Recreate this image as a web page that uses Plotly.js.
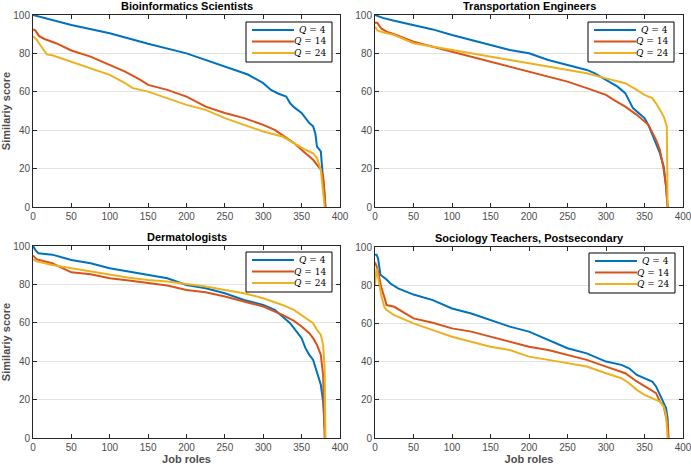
<!DOCTYPE html>
<html>
<head>
<meta charset="utf-8">
<script src="https://cdn.plot.ly/plotly-3.0.1.min.js"></script>
<style>
  html, body { margin: 0; padding: 0; background: #fff; }
  #chart { width: 691px; height: 470px; }
</style>
</head>
<body>
<div id="chart"></div>
<script>
const panelTitles = ["Bioinformatics Scientists", "Transportation Engineers", "Dermatologists", "Sociology Teachers, Postsecondary"];
const seriesNames = ["<i>Q</i> = 4", "<i>Q</i> = 14", "<i>Q</i> = 24"];
const seriesColors = ["#0072BD", "#D95319", "#EDB120"];

// Bioinformatics Scientists
const bioX_q4 = [0, 5, 20, 50, 100, 150, 200, 250, 280, 300, 310, 320, 330, 335, 340, 350, 360, 365, 368, 370, 375, 378, 381];
const bioY_q4 = [100, 99.5, 98, 94.8, 90.5, 85, 80, 73, 69, 64.5, 61, 59, 57.5, 54, 52, 49, 43.7, 42, 38, 31.5, 29, 14, 0];
const bioX_q14 = [0, 3, 8, 15, 30, 50, 75, 100, 120, 140, 150, 175, 200, 225, 250, 275, 300, 315, 325, 340, 355, 365, 375, 378, 380, 381];
const bioY_q14 = [92.5, 92, 89, 87.5, 85.3, 81.5, 78.3, 74, 70.5, 66.2, 63.6, 61, 57.5, 52.3, 49, 46.3, 42.8, 40.2, 37.6, 33.3, 28, 24.6, 19.4, 16, 7, 0];
const bioX_q24 = [0, 5, 10, 18, 25, 50, 75, 100, 120, 130, 150, 175, 200, 225, 250, 275, 300, 325, 340, 355, 365, 370, 375, 378, 380];
const bioY_q24 = [89, 87, 84, 79.5, 79, 75.7, 72.3, 68.8, 64.5, 61.9, 60.1, 56.7, 53.2, 50.6, 46.3, 42.8, 39.3, 36.7, 33.3, 29.8, 28, 25.5, 19.4, 7, 0];

// Transportation Engineers
const traX_q4 = [0, 10, 25, 50, 75, 100, 125, 150, 175, 200, 225, 250, 275, 285, 300, 315, 325, 335, 345, 350, 355, 365, 370, 375, 378, 380];
const traY_q4 = [100, 98.5, 97, 94.8, 92.5, 89.6, 87, 84.4, 81.8, 80.1, 76.6, 74, 71.4, 69.7, 66.2, 62.7, 59.3, 51.5, 48, 46.3, 42.8, 33.3, 28, 21, 10.7, 0];
const traX_q14 = [0, 3, 8, 15, 25, 50, 75, 100, 125, 150, 175, 200, 225, 250, 275, 300, 310, 325, 340, 355, 365, 370, 375, 378, 380];
const traY_q14 = [96, 96, 93, 91.3, 90, 86.1, 83.5, 80.9, 78.3, 75.7, 73.5, 70.5, 67.9, 65.3, 61.9, 58.4, 55.8, 52.3, 48, 42.8, 35, 29.8, 19.4, 10.7, 0];
const traX_q24 = [0, 3, 10, 25, 50, 75, 100, 125, 150, 175, 200, 225, 250, 275, 300, 325, 340, 350, 360, 365, 370, 375, 379, 380];
const traY_q24 = [94, 92, 91, 89.6, 85.3, 83.5, 81.8, 80.1, 78.3, 76.6, 74.9, 73.1, 71.4, 69.7, 67, 64.5, 61, 58.4, 56.7, 54, 50.6, 47.1, 42, 0];

// Dermatologists
const derX_q4 = [0, 3, 7, 25, 50, 75, 100, 125, 150, 175, 200, 225, 250, 275, 300, 315, 325, 335, 345, 350, 355, 360, 365, 370, 375, 378, 380];
const derY_q4 = [100, 98, 96.2, 95.5, 92.7, 91, 88.4, 86.7, 84.9, 83.2, 79.7, 78, 75.4, 71.9, 69.3, 66.7, 63.3, 59.8, 54.6, 52, 46.8, 43.3, 40.7, 34.7, 27.7, 19, 5.2];
const derX_q14 = [0, 5, 25, 50, 75, 100, 125, 150, 175, 200, 225, 250, 275, 300, 325, 340, 350, 360, 365, 370, 375, 378, 380];
const derY_q14 = [95, 93, 91, 86.3, 85.3, 83.2, 82, 80.6, 79.4, 77.1, 75.9, 73.7, 71.1, 68.5, 64.1, 61, 58.1, 54.6, 52, 48.5, 43.3, 32.9, 0];
const derX_q24 = [0, 5, 25, 50, 75, 100, 125, 150, 175, 200, 225, 250, 275, 300, 325, 340, 350, 360, 365, 370, 375, 378, 380, 381];
const derY_q24 = [93, 92, 90.1, 88.4, 86.7, 84.9, 83.5, 82.3, 81.5, 80.2, 78.9, 77.1, 75.4, 72.8, 69.3, 66.7, 64.1, 61.5, 59.8, 56.3, 53.7, 48.5, 36.4, 0];

// Sociology Teachers, Postsecondary
const socX_q4 = [0, 2, 4, 5, 7, 15, 20, 30, 40, 50, 75, 100, 125, 150, 175, 200, 225, 240, 250, 275, 300, 320, 330, 340, 350, 360, 365, 370, 375, 378, 380, 381];
const socY_q4 = [96, 96, 94, 91.3, 85.5, 83, 80.9, 78.3, 76.5, 75.1, 72.2, 67.8, 65.2, 61.7, 58.3, 55.7, 51.3, 48.7, 47, 44.3, 40, 38.3, 36.5, 33, 31.3, 29.6, 27, 22.6, 18.3, 15.7, 10.4, 0];
const socX_q14 = [0, 2, 5, 8, 12, 15, 25, 50, 75, 100, 125, 150, 175, 200, 225, 250, 275, 300, 325, 340, 350, 365, 370, 375, 380, 381];
const socY_q14 = [92, 90, 85.2, 79, 73.9, 69.6, 68.7, 62.6, 60.3, 57.4, 55.7, 53, 50.1, 47.8, 46.1, 43.5, 40.9, 37.4, 33.9, 29.6, 27, 23.5, 19.1, 16.5, 7, 0];
const socX_q24 = [0, 2, 5, 8, 12, 15, 25, 50, 75, 100, 125, 150, 175, 200, 225, 250, 275, 300, 320, 330, 340, 350, 360, 370, 375, 378, 380];
const socY_q24 = [80, 89, 81.7, 74.8, 68.7, 67, 64.3, 60, 56.5, 53, 50.4, 47.8, 46.1, 42.6, 40.9, 39.1, 37.4, 33.9, 31.3, 28.7, 25.2, 22.6, 20.9, 19.1, 16.5, 12.2, 0];

const panels = [
  { xs: [bioX_q4, bioX_q14, bioX_q24], ys: [bioY_q4, bioY_q14, bioY_q24] },
  { xs: [traX_q4, traX_q14, traX_q24], ys: [traY_q4, traY_q14, traY_q24] },
  { xs: [derX_q4, derX_q14, derX_q24], ys: [derY_q4, derY_q14, derY_q24] },
  { xs: [socX_q4, socX_q14, socX_q24], ys: [socY_q4, socY_q14, socY_q24] }
];

const W = 691, H = 470;
// plot boxes in pixels: [left, right, top, bottom]
const boxes = [
  [33, 340, 15, 207],
  [375, 683, 15, 207],
  [33, 340, 246, 438],
  [375, 683, 247, 438]
];
// legend box corner (right, top) in pixels
const legendRight = [332, 674, 332, 675];
const legendTop = [22, 22, 252, 253];

const sans = "Liberation Sans, Arial, Helvetica, sans-serif";
const axisCol = "#262626";
const tickCol = "#4d4d4d";

function px(v) { return v / W; }
function py(v) { return 1 - v / H; }

var data = [];
var layout = {
  width: W, height: H,
  margin: { l: 0, r: 0, t: 0, b: 0 },
  paper_bgcolor: "#fff",
  plot_bgcolor: "#fff",
  font: { family: sans, size: 10, color: tickCol },
  annotations: [],
  shapes: [],
  showlegend: false
};

panels.forEach(function (p, i) {
  var n = i + 1;
  var suf = n === 1 ? "" : String(n);
  var b = boxes[i];

  for (var s = 0; s < 3; s++) {
    data.push({
      x: p.xs[s], y: p.ys[s],
      type: "scatter", mode: "lines",
      name: seriesNames[s],
      line: { color: seriesColors[s], width: 2 },
      xaxis: "x" + suf, yaxis: "y" + suf
    });
  }

  var common = {
    showline: true, mirror: "ticks", linecolor: axisCol, linewidth: 1,
    ticks: "inside", ticklen: 4, tickcolor: axisCol,
    tickfont: { family: sans, size: 10, color: tickCol },
    ticklabeloverflow: "allow",
    zeroline: false
  };
  layout["xaxis" + suf] = Object.assign({}, common, {
    domain: [px(b[0]), px(b[1])],
    range: [0, 400], dtick: 50, showgrid: false,
    anchor: "y" + suf
  });
  layout["yaxis" + suf] = Object.assign({}, common, {
    domain: [py(b[3]), py(b[2])],
    range: [0, 100], dtick: 20, showgrid: true, gridcolor: "#e3e3e3", gridwidth: 1,
    anchor: "x" + suf
  });
  if (i >= 2) {
    layout["xaxis" + suf].title = { text: "<b>Job roles</b>", font: { family: sans, size: 11, color: tickCol }, standoff: 3 };
  }
  if (i % 2 === 0) {
    layout["yaxis" + suf].title = { text: "<b>Similariy score</b>", font: { family: sans, size: 11, color: tickCol }, standoff: 4 };
  }

  // legend box, MATLAB style: long line sample, right aligned label
  var R = legendRight[i], T = legendTop[i];
  layout.shapes.push({
    type: "rect", xref: "paper", yref: "paper",
    x0: px(R - 86), x1: px(R), y0: py(T + 40), y1: py(T),
    line: { color: "#000", width: 1 }, fillcolor: "#fff", layer: "above"
  });
  for (var k = 0; k < 3; k++) {
    var rowY = T + 8 + k * 11.5;
    layout.shapes.push({
      type: "line", xref: "paper", yref: "paper",
      x0: px(R - 80), x1: px(R - 38), y0: py(rowY), y1: py(rowY),
      line: { color: seriesColors[k], width: 2 }, layer: "above"
    });
    layout.annotations.push({
      text: seriesNames[k], xref: "paper", yref: "paper",
      x: px(R - 4), y: py(rowY), xanchor: "right", yanchor: "middle",
      showarrow: false,
      font: { family: "DejaVu Serif, Liberation Serif, serif", size: 9, color: "#000" }
    });
  }

  layout.annotations.push({
    text: "<b>" + panelTitles[i] + "</b>",
    xref: "paper", yref: "paper",
    x: px((b[0] + b[1]) / 2), y: py(b[2]),
    xanchor: "center", yanchor: "bottom", yshift: 1,
    showarrow: false,
    font: { family: sans, size: 11, color: "#000" }
  });
});

Plotly.newPlot("chart", data, layout, { displayModeBar: false, staticPlot: true });
</script>
</body>
</html>
